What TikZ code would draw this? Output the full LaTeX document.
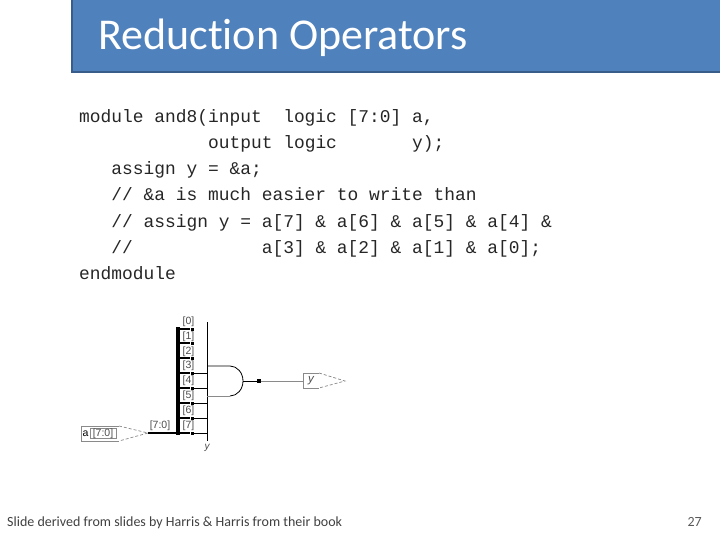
\documentclass[tikz,border=0pt]{standalone}
\usepackage{fontspec}
\setmainfont[Ligatures=NoCommon]{Carlito}
\setmonofont{Liberation Mono}
\setsansfont{Liberation Sans}
\usepackage{xcolor}
\definecolor{headfill}{HTML}{4F81BD}
\definecolor{headline}{HTML}{385D8A}
\definecolor{netgray}{HTML}{8A8A8A}
\tikzset{
    codeline/.style={anchor=base west,inner sep=0pt,font=\fontsize{17.9}{20}\selectfont\ttfamily,text=black!85},
    netlabel/.style={inner sep=0pt,font=\fontsize{10.5}{12}\selectfont\sffamily,text=black!70},
    tapdot/.style={fill=black,inner sep=0pt,minimum size=3pt},
    portline/.style={draw=netgray,line width=0.7pt},
    bus/.style={black,line width=3.4pt},
    stub/.style={black,line width=1.5pt},
    wire/.style={black,line width=0.8pt}
}
\begin{document}
\begin{tikzpicture}[x=1pt,y=-1pt]
        \useasboundingbox (0,0) rectangle (720,540);
        \draw [headline,fill=headfill,line width=2pt] (72,-3) rectangle (723,72);
        \node (title) [anchor=base west,inner sep=0pt,text=white,font=\fontsize{44}{48}\selectfont] at (98,50) {Reduction Operators};
        \node (line1) [codeline] at (79,123) {module and8(input~~logic [7:0] a,};
        \node (line2) [codeline] at (79,149) {~~~~~~~~~~~~output logic~~~~~~~y);};
        \node (line3) [codeline] at (79,175) {~~~assign y = \&a;};
        \node (line4) [codeline] at (79,201) {~~~// \&a is much easier to write than};
        \node (line5) [codeline] at (79,227) {~~~// assign y = a[7] \& a[6] \& a[5] \& a[4] \&};
        \node (line6) [codeline] at (79,253) {~~~//~~~~~~~~~~~~a[3] \& a[2] \& a[1] \& a[0];};
        \node (line7) [codeline] at (79,279) {endmodule};
        % bus and taps
        \coordinate (busTop) at (178,329);
        \coordinate (busEnd) at (178,433);
        \coordinate (yTop) at (207,322);
        \coordinate (yEnd) at (207,441);
        \node (tap0) [tapdot] at (192,329) {};
        \node (tap1) [tapdot] at (192,343) {};
        \node (tap2) [tapdot] at (192,358) {};
        \node (tap3) [tapdot] at (192,373) {};
        \node (tap4) [tapdot] at (192,388) {};
        \node (tap5) [tapdot] at (192,403) {};
        \node (tap6) [tapdot] at (192,418) {};
        \node (tap7) [tapdot] at (192,433) {};
        \coordinate (end3) at (207,373);
        \coordinate (end4) at (207,388);
        \coordinate (end5) at (207,403);
        \coordinate (end6) at (207,418);
        \coordinate (end7) at (207,433);
        \draw [wire] (yTop) -- (yEnd);
        \draw [wire] (tap3) -- (end3);
        \draw [wire] (tap4) -- (end4);
        \draw [wire] (tap5) -- (end5);
        \draw [wire] (tap6) -- (end6);
        \draw [wire] (tap7) -- (end7);
        \draw [bus,line cap=rect] (busTop) -- (busEnd);
        \draw [bus,line width=2.6pt] (busTop) -- (tap0);
        \draw [stub] (busTop |- tap1) -- (tap1);
        \draw [stub] (busTop |- tap2) -- (tap2);
        \draw [stub] (busTop |- tap3) -- (tap3);
        \draw [stub] (busTop |- tap4) -- (tap4);
        \draw [stub] (busTop |- tap5) -- (tap5);
        \draw [bus,line width=2.6pt] (busTop |- tap6) -- (tap6);
        \draw [stub] (busEnd) -- (tap7);
        \node (bit0) [netlabel] at (188.5,322) {[0]};
        \node (bit1) [netlabel] at (188.5,337) {[1]};
        \node (bit2) [netlabel] at (188.5,352) {[2]};
        \node (bit3) [netlabel] at (188.5,366) {[3]};
        \node (bit4) [netlabel] at (188.5,381) {[4]};
        \node (bit5) [netlabel] at (188.5,396) {[5]};
        \node (bit6) [netlabel] at (188.5,411) {[6]};
        \node (bit7) [netlabel] at (188.5,426) {[7]};
        \node (netY) [netlabel,font=\fontsize{10}{12}\selectfont\sffamily\itshape] at (207,448) {y};
        % input port
        \coordinate (inTip) at (148,433);
        \node (inBus) [netlabel] at (160,426) {[7:0]};
        \draw [portline] (119,426) -- (81,426) -- (81,441) -- (119,441);
        \draw [portline,densely dashed] (119,426) -- (inTip) -- (119,441);
        \draw [portline] (90,428) -- (116,428) -- (116,438) -- (90,438) -- cycle;
        \node (inName) [netlabel,text=black] at (85.5,433.5) {a};
        \node (inText) [netlabel] at (103,433.5) {[7:0]};
        \draw [stub,line width=1.8pt] (inTip) -- (busEnd);
        % and gate
        \coordinate (gateA) at (207,366);
        \coordinate (gateB) at (207,396);
        \coordinate (gateOut) at (243,381);
        \node (outDot) [tapdot,minimum size=3.5pt] at (259,381) {};
        \draw [wire] (gateA) -- (230,366) arc (-90:90:13 and 15);
        \draw [portline,line width=1pt] (gateB) -- (230,396);
        \draw [wire] (gateOut) -- (outDot);
        % output port
        \coordinate (outBox) at (303,381);
        \coordinate (outTip) at (345,381);
        \draw [portline,line width=1pt] (outDot) -- (outBox);
        \draw [portline] (319,373) -- (303,373) -- (303,388) -- (319,388);
        \draw [portline,densely dashed] (319,373) -- (outTip) -- (319,388);
        \node (outText) [netlabel,font=\fontsize{11.5}{13}\selectfont\sffamily\itshape] at (311,380.5) {y};
        % footer
        \node (credit) [anchor=base west,inner sep=0pt,text=black!75,font=\fontsize{14}{16}\selectfont] at (7,526) {Slide derived from slides by Harris \& Harris from their book};
        \node (pageNo) [anchor=base east,inner sep=0pt,text=black!65,font=\fontsize{14}{16}\selectfont] at (702,526) {27};
    \end{tikzpicture}
\end{document}
